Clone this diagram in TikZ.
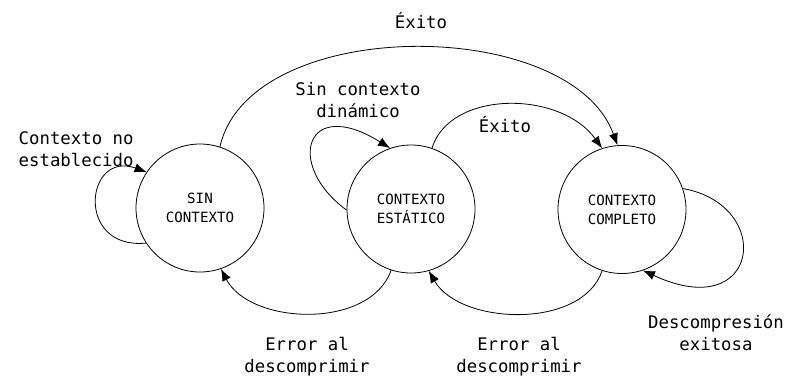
\documentclass[tikz,border=0pt]{standalone}
\usepackage{fontspec}
\setmonofont{DejaVu Sans Mono}
\usetikzlibrary{arrows.meta}

\tikzset{
  state/.style={draw, circle, line width=0.6pt, minimum size=96pt, inner sep=0pt, align=center,
    font=\ttfamily\fontsize{10.6}{14.3}\selectfont},
  lbl/.style={align=center, font=\ttfamily\fontsize{13}{16.5}\selectfont},
  trans/.style={line width=0.6pt, -{Latex[length=9pt,width=7pt]}}
}

\begin{document}
\begin{tikzpicture}[x=0.75pt,y=0.75pt,yscale=-1,xscale=1]
\useasboundingbox (0,0) rectangle (788,379);

%Shape: Circle [id:sin]
\draw (200,208) node (sin) [state] {SIN\\CONTEXTO};
%Shape: Circle [id:est]
\draw (411,209) node (est) [state] {CONTEXTO\\ESTÁTICO};
%Shape: Circle [id:comp]
\draw (622,209.5) node (comp) [state] {CONTEXTO\\COMPLETO};

%Curve Lines [id:loop sin]
\draw [trans] (sin.213) .. controls (75,250) and (85,150) .. (sin.146) ;
%Curve Lines [id:loop est]
\draw [trans] (est.181) .. controls (285,165) and (305,95) .. (est.109) ;
%Curve Lines [id:loop comp]
\draw [trans] (comp.19) .. controls (775,205) and (760,325) .. (comp.289) ;

%Curve Lines [id:sin to comp]
\draw [trans] (sin.72) .. controls (250,15) and (570,15) .. (comp.94) ;
%Curve Lines [id:est to comp]
\draw [trans] (est.71) .. controls (450,90) and (560,90) .. (comp.108) ;

%Curve Lines [id:est to sin]
\draw [trans] (est.252) .. controls (370,330) and (250,325) .. (sin.289) ;
%Curve Lines [id:comp to est]
\draw [trans] (comp.252) .. controls (582,330) and (460,325) .. (est.286) ;

% Text Node
\draw (14,149) node (lnoest) [lbl, anchor=west, align=left] {Contexto no\\establecido};
% Text Node
\draw (358,100) node (lsindin) [lbl] {Sin contexto\\dinámico};
% Text Node
\draw (421,21) node (lexito) [lbl] {Éxito};
% Text Node
\draw (505,125) node (lexitoest) [lbl] {Éxito};
% Text Node
\draw (307,357) node (lerrsin) [lbl] {Error al\\descomprimir};
% Text Node
\draw (519,357) node (lerrest) [lbl] {Error al\\descomprimir};
% Text Node
\draw (716,333) node (ldesc) [lbl] {Descompresión\\exitosa};

\end{tikzpicture}
\end{document}
